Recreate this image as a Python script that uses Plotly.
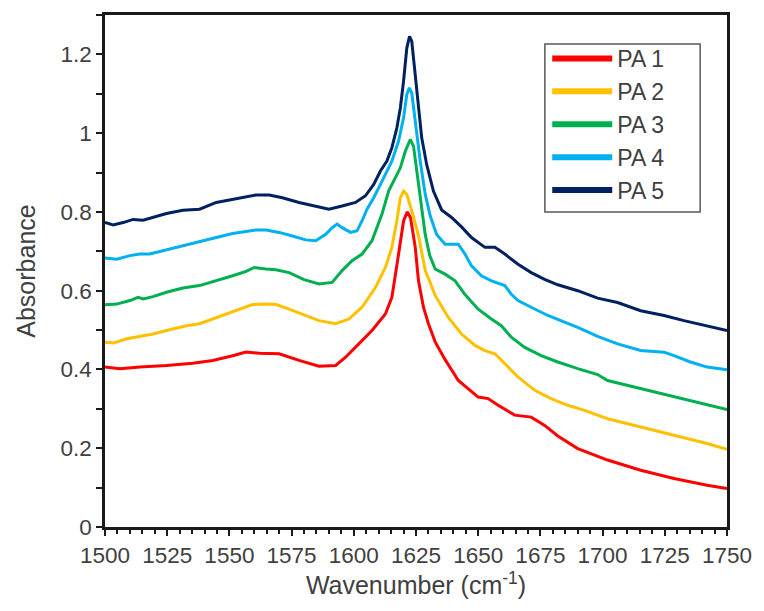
import plotly.graph_objects as go

# PA 1 (red)
pa1_x = [1500, 1506, 1514, 1524.7, 1535.3, 1543.3, 1551.3, 1556.7, 1562, 1570, 1578, 1586, 1592.7,
         1596.7, 1602, 1607.3, 1612.7, 1615.3, 1618, 1620, 1621.5, 1622.8, 1624.7, 1626, 1628, 1630,
         1632.7, 1636.7, 1642, 1650, 1654, 1658, 1664.7, 1671.3, 1676.7, 1682, 1690, 1702, 1715.3,
         1728.7, 1742, 1750]
pa1_y = [0.406, 0.402, 0.406, 0.41, 0.416, 0.423, 0.435, 0.444, 0.441, 0.44, 0.423, 0.408, 0.41,
         0.431, 0.465, 0.499, 0.541, 0.583, 0.693, 0.777, 0.800, 0.785, 0.710, 0.625, 0.558, 0.516,
         0.470, 0.425, 0.372, 0.33, 0.326, 0.309, 0.284, 0.279, 0.258, 0.231, 0.199, 0.170, 0.144,
         0.123, 0.106, 0.098]

# PA 2 (yellow)
pa2_x = [1500, 1503.3, 1508.7, 1514, 1519.3, 1524.7, 1532.7, 1538, 1543.3, 1548.7, 1554, 1559.3,
         1564.7, 1568.7, 1574, 1580, 1586, 1592.7, 1598, 1603.3, 1608.7, 1612.7, 1615.3, 1617.3,
         1618.7, 1620, 1621.3, 1623.3, 1626, 1628.7, 1632.7, 1638, 1643.3, 1648.7, 1652.7, 1656.7,
         1660.7, 1666, 1672.7, 1679.3, 1686, 1692.7, 1702, 1715.3, 1728.7, 1742, 1750]
pa2_y = [0.469, 0.467, 0.478, 0.484, 0.49, 0.499, 0.511, 0.516, 0.528, 0.541, 0.553, 0.565,
         0.566, 0.565, 0.553, 0.538, 0.524, 0.516, 0.528, 0.558, 0.608, 0.659, 0.71, 0.777,
         0.836, 0.853, 0.845, 0.803, 0.740, 0.652, 0.588, 0.532, 0.49, 0.461, 0.448, 0.44,
         0.414, 0.381, 0.347, 0.326, 0.309, 0.296, 0.275, 0.254, 0.233, 0.212, 0.197]

# PA 3 (green)
pa3_x = [1500, 1504.7, 1510, 1513.3, 1515.3, 1519.3, 1524.7, 1531.3, 1538, 1544.7, 1551.3, 1556.7,
         1560, 1564.7, 1568.7, 1574, 1580, 1586, 1591.3, 1595.3, 1599.3, 1603.3, 1607.3, 1611.3,
         1614, 1616.7, 1618.7, 1620.7, 1622.7, 1624, 1625.3, 1627.3, 1628.7, 1630.5, 1632.7,
         1636.7, 1640.7, 1644.7, 1650, 1655.3, 1659.3, 1663.3, 1668.7, 1675.3, 1682, 1690, 1698,
         1702, 1715.3, 1728.7, 1742, 1750]
pa3_y = [0.564, 0.566, 0.575, 0.583, 0.579, 0.585, 0.596, 0.607, 0.613, 0.625, 0.638, 0.649,
         0.659, 0.655, 0.653, 0.646, 0.628, 0.617, 0.621, 0.651, 0.676, 0.693, 0.727, 0.794,
         0.853, 0.887, 0.912, 0.954, 0.984, 0.967, 0.904, 0.811, 0.743, 0.69, 0.655,
         0.642, 0.625, 0.59, 0.553, 0.528, 0.511, 0.482, 0.456, 0.435, 0.419, 0.402, 0.387,
         0.372, 0.351, 0.33, 0.309, 0.298]

# PA 4 (light blue)
pa4_x = [1500, 1504.7, 1510, 1514, 1518, 1524.7, 1531.3, 1538, 1544.7, 1551.3, 1556.7, 1560.7,
         1564.7, 1570, 1575.3, 1580.7, 1584.7, 1588.7, 1591.3, 1593.3, 1595.3, 1598.7, 1601.3,
         1603.3, 1605.3, 1608, 1610.7, 1613.3, 1615.3, 1618, 1620, 1621.3, 1622.3, 1623.3, 1624.7,
         1626.7, 1628.7, 1630.7, 1633.3, 1636.7, 1642, 1644.7, 1647.3, 1651.3, 1655.3, 1660.7,
         1663.3, 1666, 1671.3, 1678, 1684.7, 1690, 1698, 1706, 1715.3, 1724.7, 1728.7, 1735.3,
         1742, 1750]
pa4_y = [0.683, 0.68, 0.689, 0.693, 0.693, 0.704, 0.714, 0.724, 0.735, 0.745, 0.75, 0.754,
         0.754, 0.748, 0.739, 0.729, 0.727, 0.743, 0.76, 0.769, 0.76, 0.748, 0.752,
         0.777, 0.807, 0.836, 0.87, 0.904, 0.929, 0.98, 1.039, 1.098, 1.115, 1.102, 1.03,
         0.929, 0.845, 0.79, 0.743, 0.718, 0.718, 0.693, 0.663, 0.638, 0.625, 0.613,
         0.591, 0.575, 0.558, 0.537, 0.52, 0.507, 0.484, 0.465, 0.448, 0.444, 0.435, 0.419,
         0.406, 0.399]

# PA 5 (navy)
pa5_x = [1500, 1503.3, 1507.3, 1511.3, 1515.3, 1519.3, 1524.7, 1531.3, 1538, 1544.7, 1551.3,
         1556.7, 1560.7, 1566, 1571.3, 1578, 1584.7, 1590, 1595.3, 1600.7, 1604.7, 1608, 1610.7,
         1613.3, 1615.3, 1617.3, 1618.7, 1620, 1621.3, 1622.4, 1623.3, 1624.4, 1626, 1627.3,
         1629.3, 1632, 1635.3, 1639.3, 1643.3, 1647.3, 1652.7, 1656.7, 1660.7, 1666, 1671.3,
         1676.7, 1682, 1690, 1698, 1706, 1715.3, 1724.7, 1732.7, 1742, 1750]
pa5_y = [0.773, 0.767, 0.773, 0.781, 0.779, 0.786, 0.796, 0.804, 0.807, 0.824, 0.832,
         0.838, 0.843, 0.843, 0.836, 0.824, 0.815, 0.807, 0.815, 0.824, 0.841, 0.87, 0.904,
         0.929, 0.963, 1.013, 1.064, 1.132, 1.216, 1.246, 1.233, 1.165, 1.064, 0.988,
         0.92, 0.853, 0.805, 0.786, 0.762, 0.735, 0.71, 0.71, 0.693, 0.667, 0.646,
         0.629, 0.615, 0.6, 0.581, 0.57, 0.549, 0.537, 0.524, 0.511, 0.499]

names = ["PA 1", "PA 2", "PA 3", "PA 4", "PA 5"]
colors = ["#FF0000", "#FFC000", "#00B050", "#00B0F0", "#002060"]
xs = [pa1_x, pa2_x, pa3_x, pa4_x, pa5_x]
ys = [pa1_y, pa2_y, pa3_y, pa4_y, pa5_y]

fig = go.Figure()
for n, c, x, y in zip(names, colors, xs, ys):
    fig.add_trace(go.Scatter(x=x, y=y, mode="lines", name=n, line=dict(color=c, width=3),
                             showlegend=False, legendgroup=n))
for n, c in zip(names, colors):
    fig.add_trace(go.Scatter(x=[None], y=[None], mode="lines", name=n, legendgroup=n,
                             line=dict(color=c, width=6), showlegend=True))

# legend frame
fig.add_shape(type="rect", xref="paper", yref="paper", x0=0.7072, x1=0.9568, y0=0.6152, y1=0.9434,
              line=dict(color="#595959", width=1.5), fillcolor="rgba(0,0,0,0)", layer="above")

font_family = "Arial, Liberation Sans, sans-serif"
fig.update_layout(
    width=764, height=611,
    margin=dict(l=105, r=34, t=15, b=84),
    paper_bgcolor="white", plot_bgcolor="white",
    font=dict(family=font_family, size=22, color="#404040"),
    legend=dict(x=0.711, y=0.957, xanchor="left", yanchor="top",
                borderwidth=0, bgcolor="rgba(255,255,255,0)",
                font=dict(size=23, color="#404040"), itemwidth=60,
                tracegroupgap=0, traceorder="grouped"),
    xaxis=dict(range=[1500, 1750], dtick=25, tick0=1500, showgrid=False, zeroline=False,
               showline=True, linecolor="#1a1a1a", linewidth=2.5, mirror=True,
               ticks="outside", ticklen=6, tickwidth=1.5, tickcolor="#1a1a1a",
               minor=dict(dtick=5, ticks="outside", ticklen=4, tickwidth=1.5, tickcolor="#1a1a1a"),
               title=dict(text="Wavenumber (cm<sup>-1</sup>)", font=dict(size=25), standoff=10),
               tickfont=dict(size=22.5)),
    yaxis=dict(range=[0, 1.3], dtick=0.2, tick0=0, showgrid=False, zeroline=False,
               showline=True, linecolor="#1a1a1a", linewidth=2.5, mirror=True,
               ticks="outside", ticklen=6, tickwidth=1.5, tickcolor="#1a1a1a",
               minor=dict(dtick=0.1, ticks="outside", ticklen=6, tickwidth=1.5, tickcolor="#1a1a1a"),
               title=dict(text="Absorbance", font=dict(size=25), standoff=18),
               tickfont=dict(size=22.5)),
)

fig.write_html("out.html")
